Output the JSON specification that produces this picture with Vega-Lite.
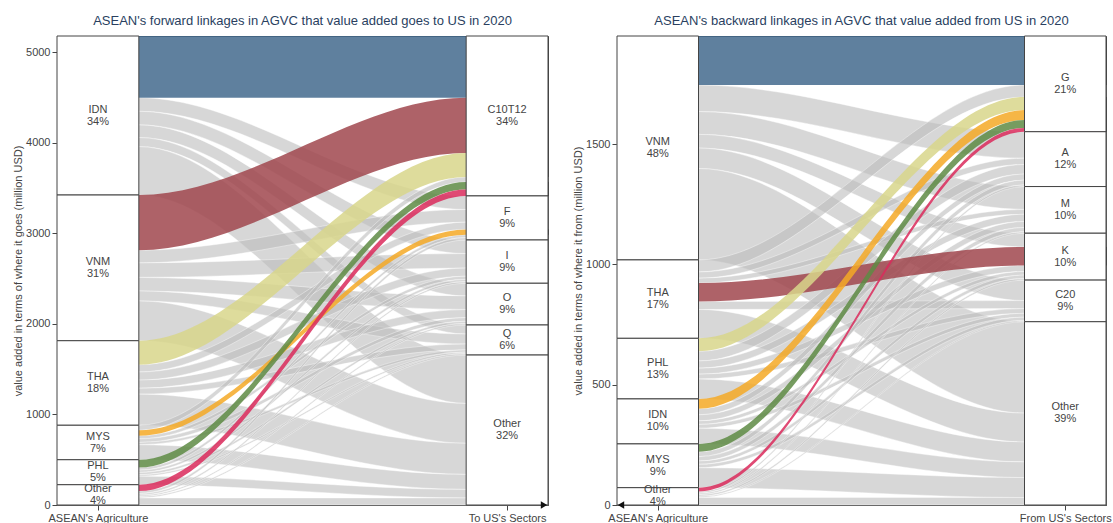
{
"$schema": "https://vega.github.io/schema/vega-lite/v6.json",
"padding": {"left": 12, "top": 14, "right": 0, "bottom": 0},
"spacing": 22,
"config": {
  "font": "Liberation Sans",
  "view": {"stroke": "#444", "strokeWidth": 1},
  "axis": {"grid": false, "domainColor": "#444", "tickColor": "#444", "labelColor": "#444", "labelFontSize": 11, "titleFontSize": 11, "titleColor": "#444", "titleFontWeight": "normal", "tickSize": 5, "labelPadding": 2, "titlePadding": 2},
  "title": {"fontSize": 13, "fontWeight": "normal", "color": "#2a3f5f", "anchor": "middle", "offset": 8}
},
"datasets": {
"fl": [
{"f":"a1","g":"blue","x":0,"lo":4500,"hi":5182},{"f":"a1","g":"blue","x":1,"lo":4500,"hi":5182},{"f":"a1","g":"blue","x":5,"lo":4500,"hi":5182},{"f":"a1","g":"blue","x":6,"lo":4500,"hi":5182},
{"f":"a2","g":"gray","x":0,"lo":4350,"hi":4500},{"f":"a2","g":"gray","x":1,"lo":4350,"hi":4500},{"f":"a2","g":"gray","x":5,"lo":3265,"hi":3415},{"f":"a2","g":"gray","x":6,"lo":3265,"hi":3415},
{"f":"a3","g":"gray","x":0,"lo":4200,"hi":4350},{"f":"a3","g":"gray","x":1,"lo":4200,"hi":4350},{"f":"a3","g":"gray","x":5,"lo":2778,"hi":2928},{"f":"a3","g":"gray","x":6,"lo":2778,"hi":2928},
{"f":"a4","g":"gray","x":0,"lo":4060,"hi":4200},{"f":"a4","g":"gray","x":1,"lo":4060,"hi":4200},{"f":"a4","g":"gray","x":5,"lo":2310,"hi":2450},{"f":"a4","g":"gray","x":6,"lo":2310,"hi":2450},
{"f":"a5","g":"gray","x":0,"lo":3960,"hi":4060},{"f":"a5","g":"gray","x":1,"lo":3960,"hi":4060},{"f":"a5","g":"gray","x":5,"lo":1889,"hi":1989},{"f":"a5","g":"gray","x":6,"lo":1889,"hi":1989},
{"f":"a6","g":"gray","x":0,"lo":3425,"hi":3960},{"f":"a6","g":"gray","x":1,"lo":3425,"hi":3960},{"f":"a6","g":"gray","x":5,"lo":1122,"hi":1657},{"f":"a6","g":"gray","x":6,"lo":1122,"hi":1657},
{"f":"b1","g":"red","x":0,"lo":2815,"hi":3425},{"f":"b1","g":"red","x":1,"lo":2815,"hi":3425},{"f":"b1","g":"red","x":5,"lo":3890,"hi":4500},{"f":"b1","g":"red","x":6,"lo":3890,"hi":4500},
{"f":"b2","g":"gray","x":0,"lo":2675,"hi":2815},{"f":"b2","g":"gray","x":1,"lo":2675,"hi":2815},{"f":"b2","g":"gray","x":5,"lo":3125,"hi":3265},{"f":"b2","g":"gray","x":6,"lo":3125,"hi":3265},
{"f":"b3","g":"gray","x":0,"lo":2515,"hi":2675},{"f":"b3","g":"gray","x":1,"lo":2515,"hi":2675},{"f":"b3","g":"gray","x":5,"lo":2618,"hi":2778},{"f":"b3","g":"gray","x":6,"lo":2618,"hi":2778},
{"f":"b4","g":"gray","x":0,"lo":2365,"hi":2515},{"f":"b4","g":"gray","x":1,"lo":2365,"hi":2515},{"f":"b4","g":"gray","x":5,"lo":2160,"hi":2310},{"f":"b4","g":"gray","x":6,"lo":2160,"hi":2310},
{"f":"b5","g":"gray","x":0,"lo":2255,"hi":2365},{"f":"b5","g":"gray","x":1,"lo":2255,"hi":2365},{"f":"b5","g":"gray","x":5,"lo":1779,"hi":1889},{"f":"b5","g":"gray","x":6,"lo":1779,"hi":1889},
{"f":"b6","g":"gray","x":0,"lo":1815,"hi":2255},{"f":"b6","g":"gray","x":1,"lo":1815,"hi":2255},{"f":"b6","g":"gray","x":5,"lo":682,"hi":1122},{"f":"b6","g":"gray","x":6,"lo":682,"hi":1122},
{"f":"c1","g":"khaki","x":0,"lo":1550,"hi":1815},{"f":"c1","g":"khaki","x":1,"lo":1550,"hi":1815},{"f":"c1","g":"khaki","x":5,"lo":3625,"hi":3890},{"f":"c1","g":"khaki","x":6,"lo":3625,"hi":3890},
{"f":"c2","g":"gray","x":0,"lo":1470,"hi":1550},{"f":"c2","g":"gray","x":1,"lo":1470,"hi":1550},{"f":"c2","g":"gray","x":5,"lo":3045,"hi":3125},{"f":"c2","g":"gray","x":6,"lo":3045,"hi":3125},
{"f":"c3","g":"gray","x":0,"lo":1380,"hi":1470},{"f":"c3","g":"gray","x":1,"lo":1380,"hi":1470},{"f":"c3","g":"gray","x":5,"lo":2528,"hi":2618},{"f":"c3","g":"gray","x":6,"lo":2528,"hi":2618},
{"f":"c4","g":"gray","x":0,"lo":1290,"hi":1380},{"f":"c4","g":"gray","x":1,"lo":1290,"hi":1380},{"f":"c4","g":"gray","x":5,"lo":2070,"hi":2160},{"f":"c4","g":"gray","x":6,"lo":2070,"hi":2160},
{"f":"c5","g":"gray","x":0,"lo":1225,"hi":1290},{"f":"c5","g":"gray","x":1,"lo":1225,"hi":1290},{"f":"c5","g":"gray","x":5,"lo":1714,"hi":1779},{"f":"c5","g":"gray","x":6,"lo":1714,"hi":1779},
{"f":"c6","g":"gray","x":0,"lo":881,"hi":1225},{"f":"c6","g":"gray","x":1,"lo":881,"hi":1225},{"f":"c6","g":"gray","x":5,"lo":338,"hi":682},{"f":"c6","g":"gray","x":6,"lo":338,"hi":682},
{"f":"d1","g":"gray","x":0,"lo":826,"hi":881},{"f":"d1","g":"gray","x":1,"lo":826,"hi":881},{"f":"d1","g":"gray","x":5,"lo":3570,"hi":3625},{"f":"d1","g":"gray","x":6,"lo":3570,"hi":3625},
{"f":"d2","g":"orange","x":0,"lo":766,"hi":826},{"f":"d2","g":"orange","x":1,"lo":766,"hi":826},{"f":"d2","g":"orange","x":5,"lo":2985,"hi":3045},{"f":"d2","g":"orange","x":6,"lo":2985,"hi":3045},
{"f":"d3","g":"gray","x":0,"lo":731,"hi":766},{"f":"d3","g":"gray","x":1,"lo":731,"hi":766},{"f":"d3","g":"gray","x":5,"lo":2493,"hi":2528},{"f":"d3","g":"gray","x":6,"lo":2493,"hi":2528},
{"f":"d4","g":"gray","x":0,"lo":691,"hi":731},{"f":"d4","g":"gray","x":1,"lo":691,"hi":731},{"f":"d4","g":"gray","x":5,"lo":2030,"hi":2070},{"f":"d4","g":"gray","x":6,"lo":2030,"hi":2070},
{"f":"d5","g":"gray","x":0,"lo":666,"hi":691},{"f":"d5","g":"gray","x":1,"lo":666,"hi":691},{"f":"d5","g":"gray","x":5,"lo":1689,"hi":1714},{"f":"d5","g":"gray","x":6,"lo":1689,"hi":1714},
{"f":"d6","g":"gray","x":0,"lo":500,"hi":666},{"f":"d6","g":"gray","x":1,"lo":500,"hi":666},{"f":"d6","g":"gray","x":5,"lo":172,"hi":338},{"f":"d6","g":"gray","x":6,"lo":172,"hi":338},
{"f":"e1","g":"green","x":0,"lo":415,"hi":500},{"f":"e1","g":"green","x":1,"lo":415,"hi":500},{"f":"e1","g":"green","x":5,"lo":3485,"hi":3570},{"f":"e1","g":"green","x":6,"lo":3485,"hi":3570},
{"f":"e2","g":"gray","x":0,"lo":385,"hi":415},{"f":"e2","g":"gray","x":1,"lo":385,"hi":415},{"f":"e2","g":"gray","x":5,"lo":2955,"hi":2985},{"f":"e2","g":"gray","x":6,"lo":2955,"hi":2985},
{"f":"e3","g":"gray","x":0,"lo":360,"hi":385},{"f":"e3","g":"gray","x":1,"lo":360,"hi":385},{"f":"e3","g":"gray","x":5,"lo":2468,"hi":2493},{"f":"e3","g":"gray","x":6,"lo":2468,"hi":2493},
{"f":"e4","g":"gray","x":0,"lo":335,"hi":360},{"f":"e4","g":"gray","x":1,"lo":335,"hi":360},{"f":"e4","g":"gray","x":5,"lo":2005,"hi":2030},{"f":"e4","g":"gray","x":6,"lo":2005,"hi":2030},
{"f":"e5","g":"gray","x":0,"lo":318,"hi":335},{"f":"e5","g":"gray","x":1,"lo":318,"hi":335},{"f":"e5","g":"gray","x":5,"lo":1672,"hi":1689},{"f":"e5","g":"gray","x":6,"lo":1672,"hi":1689},
{"f":"e6","g":"gray","x":0,"lo":224,"hi":318},{"f":"e6","g":"gray","x":1,"lo":224,"hi":318},{"f":"e6","g":"gray","x":5,"lo":78,"hi":172},{"f":"e6","g":"gray","x":6,"lo":78,"hi":172},
{"f":"g1","g":"pink","x":0,"lo":154,"hi":224},{"f":"g1","g":"pink","x":1,"lo":154,"hi":224},{"f":"g1","g":"pink","x":5,"lo":3415,"hi":3485},{"f":"g1","g":"pink","x":6,"lo":3415,"hi":3485},
{"f":"g2","g":"gray","x":0,"lo":127,"hi":154},{"f":"g2","g":"gray","x":1,"lo":127,"hi":154},{"f":"g2","g":"gray","x":5,"lo":2928,"hi":2955},{"f":"g2","g":"gray","x":6,"lo":2928,"hi":2955},
{"f":"g3","g":"gray","x":0,"lo":109,"hi":127},{"f":"g3","g":"gray","x":1,"lo":109,"hi":127},{"f":"g3","g":"gray","x":5,"lo":2450,"hi":2468},{"f":"g3","g":"gray","x":6,"lo":2450,"hi":2468},
{"f":"g4","g":"gray","x":0,"lo":93,"hi":109},{"f":"g4","g":"gray","x":1,"lo":93,"hi":109},{"f":"g4","g":"gray","x":5,"lo":1989,"hi":2005},{"f":"g4","g":"gray","x":6,"lo":1989,"hi":2005},
{"f":"g5","g":"gray","x":0,"lo":78,"hi":93},{"f":"g5","g":"gray","x":1,"lo":78,"hi":93},{"f":"g5","g":"gray","x":5,"lo":1657,"hi":1672},{"f":"g5","g":"gray","x":6,"lo":1657,"hi":1672},
{"f":"g6","g":"gray","x":0,"lo":0,"hi":78},{"f":"g6","g":"gray","x":1,"lo":0,"hi":78},{"f":"g6","g":"gray","x":5,"lo":0,"hi":78},{"f":"g6","g":"gray","x":6,"lo":0,"hi":78}
],
"fr": [
{"f":"p1","g":"blue","x":0,"lo":1746,"hi":1950},{"f":"p1","g":"blue","x":1,"lo":1746,"hi":1950},{"f":"p1","g":"blue","x":5,"lo":1746,"hi":1950},{"f":"p1","g":"blue","x":6,"lo":1746,"hi":1950},
{"f":"p2","g":"gray","x":0,"lo":1636,"hi":1746},{"f":"p2","g":"gray","x":1,"lo":1636,"hi":1746},{"f":"p2","g":"gray","x":5,"lo":1442,"hi":1552},{"f":"p2","g":"gray","x":6,"lo":1442,"hi":1552},
{"f":"p3","g":"gray","x":0,"lo":1541,"hi":1636},{"f":"p3","g":"gray","x":1,"lo":1541,"hi":1636},{"f":"p3","g":"gray","x":5,"lo":1229,"hi":1324},{"f":"p3","g":"gray","x":6,"lo":1229,"hi":1324},
{"f":"p4","g":"gray","x":0,"lo":1484,"hi":1541},{"f":"p4","g":"gray","x":1,"lo":1484,"hi":1541},{"f":"p4","g":"gray","x":5,"lo":1073,"hi":1130},{"f":"p4","g":"gray","x":6,"lo":1073,"hi":1130},
{"f":"p5","g":"gray","x":0,"lo":1399,"hi":1484},{"f":"p5","g":"gray","x":1,"lo":1399,"hi":1484},{"f":"p5","g":"gray","x":5,"lo":850,"hi":935},{"f":"p5","g":"gray","x":6,"lo":850,"hi":935},
{"f":"p6","g":"gray","x":0,"lo":1019,"hi":1399},{"f":"p6","g":"gray","x":1,"lo":1019,"hi":1399},{"f":"p6","g":"gray","x":5,"lo":382,"hi":762},{"f":"p6","g":"gray","x":6,"lo":382,"hi":762},
{"f":"q1","g":"gray","x":0,"lo":969,"hi":1019},{"f":"q1","g":"gray","x":1,"lo":969,"hi":1019},{"f":"q1","g":"gray","x":5,"lo":1696,"hi":1746},{"f":"q1","g":"gray","x":6,"lo":1696,"hi":1746},
{"f":"q2","g":"gray","x":0,"lo":943,"hi":969},{"f":"q2","g":"gray","x":1,"lo":943,"hi":969},{"f":"q2","g":"gray","x":5,"lo":1416,"hi":1442},{"f":"q2","g":"gray","x":6,"lo":1416,"hi":1442},
{"f":"q3","g":"gray","x":0,"lo":923,"hi":943},{"f":"q3","g":"gray","x":1,"lo":923,"hi":943},{"f":"q3","g":"gray","x":5,"lo":1209,"hi":1229},{"f":"q3","g":"gray","x":6,"lo":1209,"hi":1229},
{"f":"q4","g":"red","x":0,"lo":846,"hi":923},{"f":"q4","g":"red","x":1,"lo":846,"hi":923},{"f":"q4","g":"red","x":5,"lo":996,"hi":1073},{"f":"q4","g":"red","x":6,"lo":996,"hi":1073},
{"f":"q5","g":"gray","x":0,"lo":813,"hi":846},{"f":"q5","g":"gray","x":1,"lo":813,"hi":846},{"f":"q5","g":"gray","x":5,"lo":817,"hi":850},{"f":"q5","g":"gray","x":6,"lo":817,"hi":850},
{"f":"q6","g":"gray","x":0,"lo":693,"hi":813},{"f":"q6","g":"gray","x":1,"lo":693,"hi":813},{"f":"q6","g":"gray","x":5,"lo":262,"hi":382},{"f":"q6","g":"gray","x":6,"lo":262,"hi":382},
{"f":"r1","g":"khaki","x":0,"lo":639,"hi":693},{"f":"r1","g":"khaki","x":1,"lo":639,"hi":693},{"f":"r1","g":"khaki","x":5,"lo":1642,"hi":1696},{"f":"r1","g":"khaki","x":6,"lo":1642,"hi":1696},
{"f":"r2","g":"gray","x":0,"lo":599,"hi":639},{"f":"r2","g":"gray","x":1,"lo":599,"hi":639},{"f":"r2","g":"gray","x":5,"lo":1376,"hi":1416},{"f":"r2","g":"gray","x":6,"lo":1376,"hi":1416},
{"f":"r3","g":"gray","x":0,"lo":569,"hi":599},{"f":"r3","g":"gray","x":1,"lo":569,"hi":599},{"f":"r3","g":"gray","x":5,"lo":1179,"hi":1209},{"f":"r3","g":"gray","x":6,"lo":1179,"hi":1209},
{"f":"r4","g":"gray","x":0,"lo":544,"hi":569},{"f":"r4","g":"gray","x":1,"lo":544,"hi":569},{"f":"r4","g":"gray","x":5,"lo":971,"hi":996},{"f":"r4","g":"gray","x":6,"lo":971,"hi":996},
{"f":"r5","g":"gray","x":0,"lo":524,"hi":544},{"f":"r5","g":"gray","x":1,"lo":524,"hi":544},{"f":"r5","g":"gray","x":5,"lo":797,"hi":817},{"f":"r5","g":"gray","x":6,"lo":797,"hi":817},
{"f":"r6","g":"gray","x":0,"lo":441,"hi":524},{"f":"r6","g":"gray","x":1,"lo":441,"hi":524},{"f":"r6","g":"gray","x":5,"lo":179,"hi":262},{"f":"r6","g":"gray","x":6,"lo":179,"hi":262},
{"f":"s1","g":"orange","x":0,"lo":400,"hi":441},{"f":"s1","g":"orange","x":1,"lo":400,"hi":441},{"f":"s1","g":"orange","x":5,"lo":1601,"hi":1642},{"f":"s1","g":"orange","x":6,"lo":1601,"hi":1642},
{"f":"s2","g":"gray","x":0,"lo":375,"hi":400},{"f":"s2","g":"gray","x":1,"lo":375,"hi":400},{"f":"s2","g":"gray","x":5,"lo":1351,"hi":1376},{"f":"s2","g":"gray","x":6,"lo":1351,"hi":1376},
{"f":"s3","g":"gray","x":0,"lo":350,"hi":375},{"f":"s3","g":"gray","x":1,"lo":350,"hi":375},{"f":"s3","g":"gray","x":5,"lo":1154,"hi":1179},{"f":"s3","g":"gray","x":6,"lo":1154,"hi":1179},
{"f":"s4","g":"gray","x":0,"lo":335,"hi":350},{"f":"s4","g":"gray","x":1,"lo":335,"hi":350},{"f":"s4","g":"gray","x":5,"lo":956,"hi":971},{"f":"s4","g":"gray","x":6,"lo":956,"hi":971},
{"f":"s5","g":"gray","x":0,"lo":319,"hi":335},{"f":"s5","g":"gray","x":1,"lo":319,"hi":335},{"f":"s5","g":"gray","x":5,"lo":781,"hi":797},{"f":"s5","g":"gray","x":6,"lo":781,"hi":797},
{"f":"s6","g":"gray","x":0,"lo":254,"hi":319},{"f":"s6","g":"gray","x":1,"lo":254,"hi":319},{"f":"s6","g":"gray","x":5,"lo":114,"hi":179},{"f":"s6","g":"gray","x":6,"lo":114,"hi":179},
{"f":"t1","g":"green","x":0,"lo":221,"hi":254},{"f":"t1","g":"green","x":1,"lo":221,"hi":254},{"f":"t1","g":"green","x":5,"lo":1568,"hi":1601},{"f":"t1","g":"green","x":6,"lo":1568,"hi":1601},
{"f":"t2","g":"gray","x":0,"lo":201,"hi":221},{"f":"t2","g":"gray","x":1,"lo":201,"hi":221},{"f":"t2","g":"gray","x":5,"lo":1331,"hi":1351},{"f":"t2","g":"gray","x":6,"lo":1331,"hi":1351},
{"f":"t3","g":"gray","x":0,"lo":183,"hi":201},{"f":"t3","g":"gray","x":1,"lo":183,"hi":201},{"f":"t3","g":"gray","x":5,"lo":1136,"hi":1154},{"f":"t3","g":"gray","x":6,"lo":1136,"hi":1154},
{"f":"t4","g":"gray","x":0,"lo":169,"hi":183},{"f":"t4","g":"gray","x":1,"lo":169,"hi":183},{"f":"t4","g":"gray","x":5,"lo":942,"hi":956},{"f":"t4","g":"gray","x":6,"lo":942,"hi":956},
{"f":"t5","g":"gray","x":0,"lo":155,"hi":169},{"f":"t5","g":"gray","x":1,"lo":155,"hi":169},{"f":"t5","g":"gray","x":5,"lo":767,"hi":781},{"f":"t5","g":"gray","x":6,"lo":767,"hi":781},
{"f":"t6","g":"gray","x":0,"lo":72,"hi":155},{"f":"t6","g":"gray","x":1,"lo":72,"hi":155},{"f":"t6","g":"gray","x":5,"lo":31,"hi":114},{"f":"t6","g":"gray","x":6,"lo":31,"hi":114},
{"f":"u1","g":"pink","x":0,"lo":56,"hi":72},{"f":"u1","g":"pink","x":1,"lo":56,"hi":72},{"f":"u1","g":"pink","x":5,"lo":1552,"hi":1568},{"f":"u1","g":"pink","x":6,"lo":1552,"hi":1568},
{"f":"u2","g":"gray","x":0,"lo":49,"hi":56},{"f":"u2","g":"gray","x":1,"lo":49,"hi":56},{"f":"u2","g":"gray","x":5,"lo":1324,"hi":1331},{"f":"u2","g":"gray","x":6,"lo":1324,"hi":1331},
{"f":"u3","g":"gray","x":0,"lo":43,"hi":49},{"f":"u3","g":"gray","x":1,"lo":43,"hi":49},{"f":"u3","g":"gray","x":5,"lo":1130,"hi":1136},{"f":"u3","g":"gray","x":6,"lo":1130,"hi":1136},
{"f":"u4","g":"gray","x":0,"lo":36,"hi":43},{"f":"u4","g":"gray","x":1,"lo":36,"hi":43},{"f":"u4","g":"gray","x":5,"lo":935,"hi":942},{"f":"u4","g":"gray","x":6,"lo":935,"hi":942},
{"f":"u5","g":"gray","x":0,"lo":31,"hi":36},{"f":"u5","g":"gray","x":1,"lo":31,"hi":36},{"f":"u5","g":"gray","x":5,"lo":762,"hi":767},{"f":"u5","g":"gray","x":6,"lo":762,"hi":767},
{"f":"u6","g":"gray","x":0,"lo":0,"hi":31},{"f":"u6","g":"gray","x":1,"lo":0,"hi":31},{"f":"u6","g":"gray","x":5,"lo":0,"hi":31},{"f":"u6","g":"gray","x":6,"lo":0,"hi":31}
],
"nl": [
{"s":0,"n":"IDN","p":"34%","lo":3425,"hi":5182},{"s":0,"n":"VNM","p":"31%","lo":1815,"hi":3425},{"s":0,"n":"THA","p":"18%","lo":881,"hi":1815},{"s":0,"n":"MYS","p":"7%","lo":500,"hi":881},{"s":0,"n":"PHL","p":"5%","lo":224,"hi":500},{"s":0,"n":"Other","p":"4%","lo":0,"hi":224},
{"s":1,"n":"C10T12","p":"34%","lo":3415,"hi":5182},{"s":1,"n":"F","p":"9%","lo":2928,"hi":3415},{"s":1,"n":"I","p":"9%","lo":2450,"hi":2928},{"s":1,"n":"O","p":"9%","lo":1989,"hi":2450},{"s":1,"n":"Q","p":"6%","lo":1657,"hi":1989},{"s":1,"n":"Other","p":"32%","lo":0,"hi":1657}
],
"nr": [
{"s":0,"n":"VNM","p":"48%","lo":1019,"hi":1950},{"s":0,"n":"THA","p":"17%","lo":693,"hi":1019},{"s":0,"n":"PHL","p":"13%","lo":441,"hi":693},{"s":0,"n":"IDN","p":"10%","lo":254,"hi":441},{"s":0,"n":"MYS","p":"9%","lo":72,"hi":254},{"s":0,"n":"Other","p":"4%","lo":0,"hi":72},
{"s":1,"n":"G","p":"21%","lo":1552,"hi":1950},{"s":1,"n":"A","p":"12%","lo":1324,"hi":1552},{"s":1,"n":"M","p":"10%","lo":1130,"hi":1324},{"s":1,"n":"K","p":"10%","lo":935,"hi":1130},{"s":1,"n":"C20","p":"9%","lo":762,"hi":935},{"s":1,"n":"Other","p":"39%","lo":0,"hi":762}
]
},
"hconcat": [
{
 "width": 491, "height": 469,
 "title": {"text": "ASEAN's forward linkages in AGVC that value added goes to US in 2020"},
 "layer": [
  {"data": {"name": "fl"}, "transform": [{"filter": "datum.g == 'gray'"}],
   "mark": {"type": "area", "interpolate": "monotone", "fill": "#bdbdbd", "fillOpacity": 0.6, "stroke": "white", "strokeWidth": 0.5, "strokeOpacity": 0.8},
   "encoding": {
    "x": {"field": "x", "type": "quantitative", "scale": {"domain": [0, 6], "nice": false, "zero": false},
          "axis": {"values": [0.5, 5.5], "title": null, "labelExpr": "datum.value < 3 ? \"ASEAN's Agriculture\" : \"To US's Sectors\""}},
    "y": {"field": "lo", "type": "quantitative", "scale": {"domain": [0, 5182], "nice": false},
          "axis": {"values": [0, 1000, 2000, 3000, 4000, 5000], "format": "d", "title": "value added in terms of where it goes (million USD)"}},
    "y2": {"field": "hi"},
    "detail": {"field": "f"}
   }},
  {"data": {"name": "fl"}, "transform": [{"filter": "datum.g != 'gray'"}],
   "mark": {"type": "area", "interpolate": "monotone", "fillOpacity": 0.85},
   "encoding": {
    "x": {"field": "x", "type": "quantitative"},
    "y": {"field": "lo", "type": "quantitative"},
    "y2": {"field": "hi"},
    "detail": {"field": "f"},
    "color": {"field": "g", "type": "nominal", "legend": null,
              "scale": {"domain": ["blue", "red", "khaki", "orange", "green", "pink"], "range": ["#436a8d", "#a0474e", "#d8d68b", "#f5a926", "#5e8b44", "#db2a5c"]}}
   }},
  {"data": {"name": "nl"}, "transform": [{"calculate": "datum.s * 5", "as": "x0"}, {"calculate": "datum.s * 5 + 1", "as": "x1"}],
   "mark": {"type": "rect", "fill": "white", "stroke": "#444", "strokeWidth": 1},
   "encoding": {"x": {"field": "x0", "type": "quantitative"}, "x2": {"field": "x1"}, "y": {"field": "lo", "type": "quantitative"}, "y2": {"field": "hi"}}},
  {"data": {"name": "nl"}, "transform": [{"calculate": "datum.s * 5 + 0.5", "as": "xm"}, {"calculate": "(datum.lo + datum.hi) / 2", "as": "ym"}, {"calculate": "datum.n + '\\n' + datum.p", "as": "lab"}],
   "mark": {"type": "text", "fontSize": 11, "color": "#444", "lineBreak": "\n", "lineHeight": 12, "dy": -6, "align": "center", "baseline": "middle"},
   "encoding": {"x": {"field": "xm", "type": "quantitative"}, "y": {"field": "ym", "type": "quantitative"}, "text": {"field": "lab"}}},
  {"data": {"values": [{}]},
   "mark": {"type": "point", "shape": "triangle-right", "filled": true, "color": "#111", "opacity": 1, "size": 55, "xOffset": -4},
   "encoding": {"x": {"datum": 6, "type": "quantitative"}, "y": {"datum": 0, "type": "quantitative"}}}
 ]
},
{
 "width": 489, "height": 469,
 "title": {"text": "ASEAN's backward linkages in AGVC that value added from US in 2020"},
 "layer": [
  {"data": {"name": "fr"}, "transform": [{"filter": "datum.g == 'gray'"}],
   "mark": {"type": "area", "interpolate": "monotone", "fill": "#bdbdbd", "fillOpacity": 0.6, "stroke": "white", "strokeWidth": 0.5, "strokeOpacity": 0.8},
   "encoding": {
    "x": {"field": "x", "type": "quantitative", "scale": {"domain": [0, 6], "nice": false, "zero": false},
          "axis": {"values": [0.5, 5.5], "title": null, "labelExpr": "datum.value < 3 ? \"ASEAN's Agriculture\" : \"From US's Sectors\""}},
    "y": {"field": "lo", "type": "quantitative", "scale": {"domain": [0, 1950], "nice": false},
          "axis": {"values": [0, 500, 1000, 1500], "format": "d", "title": "value added in terms of where it from (million USD)"}},
    "y2": {"field": "hi"},
    "detail": {"field": "f"}
   }},
  {"data": {"name": "fr"}, "transform": [{"filter": "datum.g != 'gray'"}],
   "mark": {"type": "area", "interpolate": "monotone", "fillOpacity": 0.85},
   "encoding": {
    "x": {"field": "x", "type": "quantitative"},
    "y": {"field": "lo", "type": "quantitative"},
    "y2": {"field": "hi"},
    "detail": {"field": "f"},
    "color": {"field": "g", "type": "nominal", "legend": null,
              "scale": {"domain": ["blue", "red", "khaki", "orange", "green", "pink"], "range": ["#436a8d", "#a0474e", "#d8d68b", "#f5a926", "#5e8b44", "#db2a5c"]}}
   }},
  {"data": {"name": "nr"}, "transform": [{"calculate": "datum.s * 5", "as": "x0"}, {"calculate": "datum.s * 5 + 1", "as": "x1"}],
   "mark": {"type": "rect", "fill": "white", "stroke": "#444", "strokeWidth": 1},
   "encoding": {"x": {"field": "x0", "type": "quantitative"}, "x2": {"field": "x1"}, "y": {"field": "lo", "type": "quantitative"}, "y2": {"field": "hi"}}},
  {"data": {"name": "nr"}, "transform": [{"calculate": "datum.s * 5 + 0.5", "as": "xm"}, {"calculate": "(datum.lo + datum.hi) / 2", "as": "ym"}, {"calculate": "datum.n + '\\n' + datum.p", "as": "lab"}],
   "mark": {"type": "text", "fontSize": 11, "color": "#444", "lineBreak": "\n", "lineHeight": 12, "dy": -6, "align": "center", "baseline": "middle"},
   "encoding": {"x": {"field": "xm", "type": "quantitative"}, "y": {"field": "ym", "type": "quantitative"}, "text": {"field": "lab"}}},
  {"data": {"values": [{}]},
   "mark": {"type": "point", "shape": "triangle-left", "filled": true, "color": "#111", "opacity": 1, "size": 55, "xOffset": 4},
   "encoding": {"x": {"datum": 0, "type": "quantitative"}, "y": {"datum": 0, "type": "quantitative"}}}
 ]
}
]
}
